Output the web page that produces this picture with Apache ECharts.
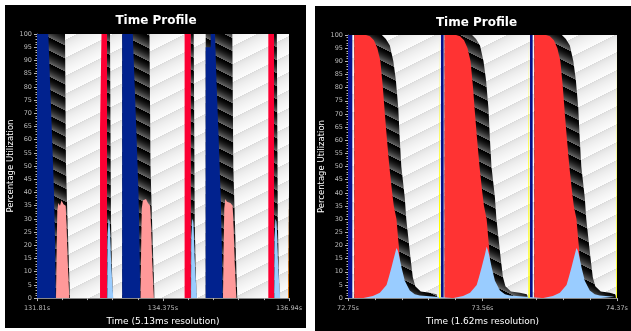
<!DOCTYPE html>
<html>
<head>
<meta charset="utf-8">
<script src="https://cdn.jsdelivr.net/npm/echarts@6.0.0/dist/echarts.min.js"></script>
<style>
html, body { margin: 0; padding: 0; background: #fff; }
#chart { width: 631px; height: 331px; }
</style>
</head>
<body>
<div id="chart"></div>
<script>
// ---- left panel: 131.81s .. 136.94s (5.13ms resolution) ----
const leftXMin = 131.81, leftXMax = 136.94, leftXStep = 2.565;
const leftXTicks = ["131.81s", "134.375s", "136.94s"];

// cumulative utilization (top of each layer), [time s, %]
const leftIdle = [[131.81, 100], [136.94, 100]];
const leftBusy = [
	[131.81, 100], [132.380, 100], [132.400, 50], [132.421, 36], [132.447, 20], [132.482, 0],
	[133.225, 0], [133.225, 100], [133.296, 100], [133.316, 30], [133.337, 10], [133.357, 0],
	[133.545, 0], [133.545, 100], [134.100, 100], [134.120, 50], [134.141, 36], [134.167, 20], [134.202, 0],
	[134.930, 0], [134.930, 100], [135.000, 100], [135.020, 30], [135.041, 10], [135.061, 0],
	[135.244, 0], [135.244, 100], [135.786, 100], [135.806, 50], [135.827, 36], [135.853, 20], [135.888, 0],
	[136.625, 0], [136.625, 100], [136.692, 100], [136.712, 30], [136.733, 10], [136.753, 0],
	[136.920, 0], [136.920, 40], [136.940, 40]
];
const leftRed = [
	[133.093, 0], [133.093, 64], [133.123, 64], [133.123, 100], [133.235, 100], [133.235, 0],
	[134.815, 0], [134.815, 100], [134.940, 100], [134.940, 0],
	[136.519, 0], [136.519, 100], [136.635, 100], [136.635, 0]
];
const leftPink = [
	[132.197, 0], [132.211, 20], [132.223, 33], [132.244, 36], [132.278, 35], [132.309, 37], [132.349, 35.5], [132.380, 36], [132.394, 35], [132.415, 26], [132.435, 14], [132.468, 0],
	[133.917, 0], [133.931, 20], [133.943, 34], [133.964, 37], [133.998, 36.5], [134.029, 37.5], [134.069, 36], [134.100, 36.5], [134.114, 35], [134.135, 26], [134.155, 14], [134.188, 0],
	[135.596, 0], [135.610, 20], [135.622, 34], [135.643, 37.5], [135.677, 36.5], [135.708, 37], [135.748, 36], [135.779, 36.5], [135.793, 35], [135.814, 26], [135.834, 14], [135.867, 0]
];
const leftBlue = [
	[131.81, 100], [132.040, 100], [132.075, 82], [132.115, 62], [132.156, 40], [132.176, 22], [132.191, 0],
	[133.545, 0], [133.545, 100], [133.760, 100], [133.795, 82], [133.835, 62], [133.876, 40], [133.896, 22], [133.911, 0],
	[135.244, 0], [135.244, 95], [135.346, 95], [135.346, 100], [135.434, 100], [135.464, 82], [135.505, 62], [135.546, 40], [135.570, 22], [135.590, 0]
];
const leftLight = [
	[133.241, 0], [133.245, 22], [133.266, 30], [133.286, 29], [133.296, 26], [133.316, 15], [133.337, 7], [133.363, 0],
	[134.946, 0], [134.950, 22], [134.970, 30], [134.990, 29], [135.000, 26], [135.020, 15], [135.041, 7], [135.067, 0],
	[136.640, 0], [136.644, 22], [136.664, 30], [136.684, 29], [136.694, 26], [136.714, 15], [136.735, 7], [136.761, 0]
];
const leftOrange = [[136.922, 0], [136.922, 38], [136.940, 38]];

// ---- right panel: 72.75s .. 74.37s (1.62ms resolution) ----
const rightXMin = 72.75, rightXMax = 74.37, rightXStep = 0.81;
const rightXTicks = ["72.75s", "73.56s", "74.37s"];

const rightIdle = [[72.75, 100], [74.37, 100]];
const rightBusy = [
	[72.788, 0], [72.788, 100], [72.954, 100], [72.978, 98.5], [73.002, 96], [73.023, 90], [73.038, 83], [73.053, 72], [73.062, 60], [73.071, 50], [73.080, 45], [73.092, 38], [73.101, 30], [73.113, 23], [73.125, 16], [73.140, 8], [73.155, 4.5], [73.188, 2.5], [73.242, 2], [73.284, 1.5], [73.290, 0],
	[73.332, 0], [73.332, 100], [73.497, 100], [73.521, 98.5], [73.545, 96], [73.566, 90], [73.581, 83], [73.596, 72], [73.605, 60], [73.614, 50], [73.623, 45], [73.635, 38], [73.644, 30], [73.656, 23], [73.668, 16], [73.683, 8], [73.698, 4.5], [73.731, 2.5], [73.785, 2], [73.827, 1.5], [73.833, 0],
	[73.872, 0], [73.872, 100], [74.038, 100], [74.062, 98.5], [74.086, 96], [74.107, 90], [74.122, 83], [74.137, 72], [74.146, 60], [74.155, 50], [74.164, 45], [74.176, 38], [74.185, 30], [74.197, 23], [74.209, 16], [74.224, 8], [74.239, 4.5], [74.272, 2.5], [74.326, 2], [74.360, 1.5], [74.364, 0]
];
const rightRed = [
	[72.788, 0], [72.788, 100], [72.858, 100], [72.882, 99.5], [72.906, 98], [72.927, 95], [72.945, 90], [72.960, 80], [72.972, 70], [72.985, 60], [72.999, 50], [73.016, 40], [73.026, 35], [73.042, 30], [73.050, 24], [73.057, 19], [73.065, 10], [73.071, 0],
	[73.332, 0], [73.332, 100], [73.401, 100], [73.425, 99.5], [73.449, 98], [73.470, 95], [73.488, 90], [73.503, 80], [73.515, 70], [73.528, 60], [73.542, 50], [73.559, 40], [73.569, 35], [73.585, 30], [73.593, 24], [73.600, 19], [73.608, 10], [73.614, 0],
	[73.872, 0], [73.872, 100], [73.942, 100], [73.966, 99.5], [73.990, 98], [74.011, 95], [74.029, 90], [74.044, 80], [74.056, 70], [74.069, 60], [74.083, 50], [74.100, 40], [74.110, 35], [74.126, 30], [74.134, 24], [74.141, 19], [74.149, 10], [74.155, 0]
];
const rightNavy = [
	[72.750, 100], [72.776, 100], [72.776, 0],
	[73.310, 0], [73.310, 100], [73.326, 100], [73.326, 0],
	[73.846, 0], [73.846, 100], [73.862, 100], [73.862, 0]
];
const rightLight = [
	[72.840, 0], [72.900, 0.8], [72.942, 2], [72.982, 5], [72.996, 8], [73.012, 11.7], [73.023, 14.5], [73.032, 16.7], [73.042, 19], [73.050, 18], [73.056, 16.7], [73.072, 11.7], [73.092, 6.6], [73.122, 2.9], [73.152, 1.5], [73.182, 1], [73.278, 0.5], [73.290, 0],
	[73.383, 0], [73.443, 0.8], [73.485, 2], [73.525, 5], [73.539, 8], [73.555, 11.7], [73.566, 14.5], [73.575, 16.7], [73.585, 19.5], [73.593, 18], [73.599, 16.7], [73.615, 11.7], [73.635, 6.6], [73.665, 2.9], [73.695, 1.5], [73.725, 1], [73.821, 0.5], [73.833, 0],
	[73.924, 0], [73.984, 0.8], [74.026, 2], [74.066, 5], [74.080, 8], [74.096, 11.7], [74.107, 14.5], [74.116, 16.7], [74.126, 19], [74.134, 18], [74.140, 16.7], [74.156, 11.7], [74.176, 6.6], [74.206, 2.9], [74.236, 1.5], [74.266, 1], [74.355, 0.5], [74.362, 0]
];
const rightYellow = [
	[73.298, 0], [73.298, 100], [73.307, 100], [73.307, 0],
	[73.836, 0], [73.836, 100], [73.845, 100], [73.845, 0],
	[74.365, 0], [74.365, 100], [74.370, 100]
];

// diagonal gradient stripes, tile wraps seamlessly (w = period / |slope|)
function stripePattern(period, slope, from, to, gamma) {
	const w = Math.round(period / Math.abs(slope)), h = period;
	const cv = document.createElement("canvas");
	cv.width = w;
	cv.height = h;
	const ctx = cv.getContext("2d");
	const img = ctx.createImageData(w, h);
	for (let y = 0; y < h; y++) {
		for (let x = 0; x < w; x++) {
			const p = Math.pow(((((y + slope * x) % h) + h) % h) / h, gamma);
			const i = (y * w + x) * 4;
			for (let k = 0; k < 3; k++) img.data[i + k] = from[k] + (to[k] - from[k]) * p;
			img.data[i + 3] = 255;
		}
	}
	ctx.putImageData(img, 0, 0);
	return { image: cv, repeat: "repeat" };
}
const lightFill = stripePattern(18, 0.5, [218, 218, 218], [252, 252, 252], 0.5);
const darkFill = stripePattern(13, -0.5, [0, 0, 0], [110, 110, 110], 1.6);

const font = "DejaVu Sans";
const tickColor = "#b8b8b8";

function area(name, data, fill, idx) {
	return {
		name: name,
		type: "line",
		xAxisIndex: idx,
		yAxisIndex: idx,
		data: data,
		symbol: "none",
		showSymbol: false,
		silent: true,
		lineStyle: { width: 0, opacity: 0 },
		areaStyle: { color: fill, opacity: 1 },
	};
}

function xAxisOpt(idx, min, max, step, labels, name) {
	return {
		type: "value",
		gridIndex: idx,
		min: min,
		max: max,
		interval: step,
		name: name,
		nameLocation: "middle",
		nameGap: 17,
		nameTextStyle: { color: "#fff", fontSize: 9, fontFamily: font },
		axisLine: { show: true, lineStyle: { color: "#888" } },
		axisTick: { show: true, length: 3, lineStyle: { color: tickColor } },
		minorTick: { show: true, splitNumber: 5, length: 2, lineStyle: { color: tickColor } },
		splitLine: { show: false },
		axisLabel: {
			color: tickColor,
			fontSize: 6.5,
			fontFamily: font,
			margin: 7,
			formatter: function (v) {
				return labels[Math.round((v - min) / step)] || "";
			},
		},
	};
}

function yAxisOpt(idx) {
	return {
		type: "value",
		gridIndex: idx,
		min: 0,
		max: 100,
		interval: 5,
		name: "Percentage Utilization",
		nameLocation: "middle",
		nameGap: 22,
		nameTextStyle: { color: "#fff", fontSize: 8.5, fontFamily: font },
		axisLine: { show: true, lineStyle: { color: "#888" } },
		axisTick: { show: true, length: 3, lineStyle: { color: tickColor } },
		minorTick: { show: true, splitNumber: 5, length: 1.5, lineStyle: { color: tickColor } },
		splitLine: { show: false },
		axisLabel: { color: tickColor, fontSize: 6.5, fontFamily: font, margin: 5 },
	};
}

const myChart = echarts.init(document.getElementById("chart"));
const option = {
	backgroundColor: "#fff",
	animation: false,
	graphic: [
		{ type: "rect", z: -1, silent: true, shape: { x: 5, y: 5, width: 301, height: 323 }, style: { fill: "#000" } },
		{ type: "rect", z: -1, silent: true, shape: { x: 315, y: 6, width: 316, height: 325 }, style: { fill: "#000" } },
	],
	title: [
		{ text: "Time Profile", left: 156, top: 15, textAlign: "center", padding: 0, textStyle: { color: "#fff", fontSize: 12, fontWeight: "bold", fontFamily: font } },
		{ text: "Time Profile", left: 476.5, top: 16.5, textAlign: "center", padding: 0, textStyle: { color: "#fff", fontSize: 12, fontWeight: "bold", fontFamily: font } },
	],
	grid: [
		{ left: 37, top: 34, width: 252, height: 266 },
		{ left: 348, top: 35, width: 270, height: 266 },
	],
	xAxis: [
		xAxisOpt(0, leftXMin, leftXMax, leftXStep, leftXTicks, "Time (5.13ms resolution)"),
		xAxisOpt(1, rightXMin, rightXMax, rightXStep, rightXTicks, "Time (1.62ms resolution)"),
	],
	yAxis: [yAxisOpt(0), yAxisOpt(1)],
	series: [
		area("idle", leftIdle, lightFill, 0),
		area("busy", leftBusy, darkFill, 0),
		area("red", leftRed, "#fc0033", 0),
		area("pink", leftPink, "#ff9999", 0),
		area("blue", leftBlue, "#01228e", 0),
		area("lightblue", leftLight, "#99ccff", 0),
		area("orange", leftOrange, "#ff8000", 0),

		area("idle", rightIdle, lightFill, 1),
		area("busy", rightBusy, darkFill, 1),
		area("red", rightRed, "#ff3333", 1),
		area("navy", rightNavy, "#06108a", 1),
		area("lightblue", rightLight, "#99ccff", 1),
		area("yellow", rightYellow, "#ffff00", 1),
	],
};
myChart.setOption(option);
</script>
</body>
</html>
